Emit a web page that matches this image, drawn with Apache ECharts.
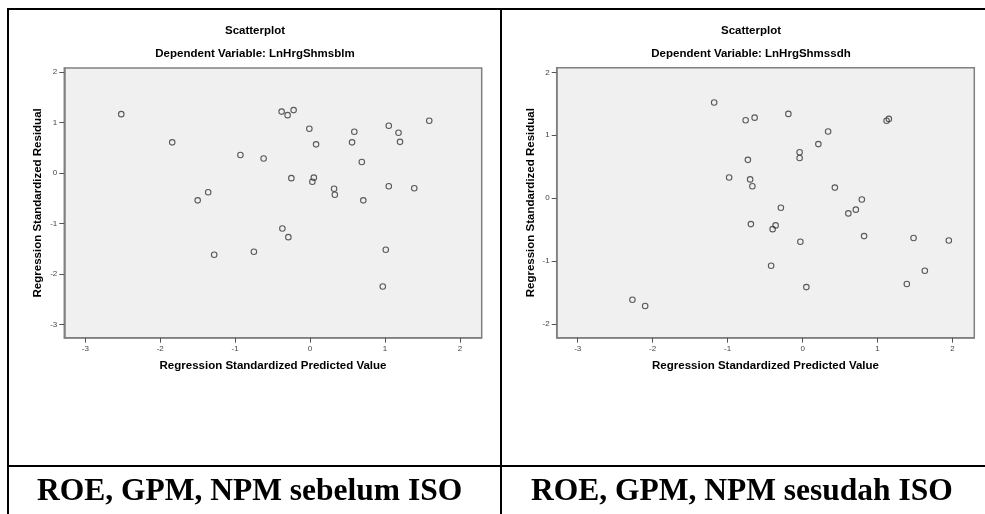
<!DOCTYPE html>
<html>
<head>
<meta charset="utf-8">
<script src="https://cdn.jsdelivr.net/npm/echarts@6/dist/echarts.min.js"></script>
<style>
  html, body { margin: 0; padding: 0; background: #fff; }
  #chart { width: 985px; height: 514px; }
</style>
</head>
<body>
<div id="chart"></div>
<script>
// sebelum ISO
const leftX = [-2.52, -1.84, -0.93, -0.62, -0.38, -0.30, -0.22, -0.01, 0.08, -0.25, 0.05, 0.03,
  0.56, 0.59, 0.69, 0.32, 0.33, 0.71, 1.05, 1.18, 1.20, 1.59, 1.05, 1.39, -1.50, -1.36,
  -0.37, -0.29, -1.28, -0.75, 1.01, 0.97];
const leftY = [1.17, 0.61, 0.36, 0.29, 1.22, 1.15, 1.25, 0.88, 0.57, -0.10, -0.09, -0.17,
  0.61, 0.82, 0.22, -0.31, -0.43, -0.54, 0.94, 0.80, 0.62, 1.04, -0.26, -0.30, -0.54, -0.38,
  -1.10, -1.27, -1.62, -1.56, -1.52, -2.25];
// sesudah ISO
const rightX = [-1.18, -0.76, -0.64, -0.19, 0.34, 0.21, -0.04, -0.04, 1.12, 1.15, -0.73, -0.98,
  -0.70, -0.67, 0.43, 0.79, -0.29, 0.61, 0.71, -0.69, -0.36, -0.40, 0.82, -0.03, 1.48, 1.95,
  -0.42, 0.05, 1.63, 1.39, -2.27, -2.10];
const rightY = [1.52, 1.24, 1.28, 1.34, 1.06, 0.86, 0.73, 0.64, 1.23, 1.26, 0.61, 0.33,
  0.30, 0.19, 0.17, -0.02, -0.15, -0.24, -0.18, -0.41, -0.43, -0.49, -0.60, -0.69, -0.63, -0.67,
  -1.07, -1.41, -1.15, -1.36, -1.61, -1.71];

const xTicks = [-3, -2, -1, 0, 1, 2];
const leftYTicks = [-3, -2, -1, 0, 1, 2];
const rightYTicks = [-2, -1, 0, 1, 2];
const subTitles = ["Dependent Variable: LnHrgShmsblm", "Dependent Variable: LnHrgShmssdh"];
const captions = ["ROE, GPM, NPM sebelum ISO", "ROE, GPM, NPM sesudah ISO"];

const sans = "Liberation Sans, Arial, sans-serif";

function pairs(xs, ys) {
  return xs.map((x, i) => [x, ys[i]]);
}

function xAxisOf(idx) {
  return {
    type: "value",
    gridIndex: idx,
    min: -3.28,
    max: 2.29,
    name: "Regression Standardized Predicted Value",
    nameLocation: "middle",
    nameGap: 22,
    nameTextStyle: { fontFamily: sans, fontWeight: "bold", fontSize: 11.5, color: "#000" },
    splitLine: { show: false },
    axisLine: { show: true, onZero: false, lineStyle: { color: "#808080", width: 1.5 } },
    axisTick: { show: true, length: 5, customValues: xTicks, lineStyle: { color: "#555" } },
    axisLabel: { customValues: xTicks, margin: 7, fontSize: 8, color: "#444", fontFamily: sans }
  };
}

function yAxisOf(idx, min, max, ticks) {
  return {
    type: "value",
    gridIndex: idx,
    min: min,
    max: max,
    name: "Regression Standardized Residual",
    nameLocation: "middle",
    nameGap: 20,
    nameTextStyle: { fontFamily: sans, fontWeight: "bold", fontSize: 11.5, color: "#000" },
    splitLine: { show: false },
    axisLine: { show: true, onZero: false, lineStyle: { color: "#808080", width: 1.5 } },
    axisTick: { show: true, length: 5, customValues: ticks, lineStyle: { color: "#555" } },
    axisLabel: { customValues: ticks, margin: 7, fontSize: 8, color: "#444", fontFamily: sans }
  };
}

function scatterOf(idx, data) {
  return {
    type: "scatter",
    xAxisIndex: idx,
    yAxisIndex: idx,
    data: data,
    symbol: "circle",
    symbolSize: 5.5,
    itemStyle: { color: "rgba(0,0,0,0)", borderColor: "#333", borderWidth: 1.1 },
    silent: true
  };
}

function line(x1, y1, x2, y2) {
  return {
    type: "line",
    shape: { x1: x1, y1: y1, x2: x2, y2: y2 },
    style: { stroke: "#000", lineWidth: 2 },
    silent: true
  };
}

function caption(cx, text) {
  return {
    type: "text", left: cx - 215, top: 476,
    style: { text: text, font: "bold 31.5px 'Liberation Serif', 'Times New Roman', serif",
      fill: "#000", width: 430, align: "center" },
    silent: true
  };
}

const titleStyle = { fontFamily: sans, fontWeight: "bold", fontSize: 11.5, color: "#000" };

const option = {
  backgroundColor: "#fff",
  animation: false,
  title: [
    { text: "Scatterplot", left: 250, top: 20, textAlign: "center", textStyle: titleStyle },
    { text: subTitles[0], left: 250, top: 43, textAlign: "center", textStyle: titleStyle },
    { text: "Scatterplot", left: 746, top: 20, textAlign: "center", textStyle: titleStyle },
    { text: subTitles[1], left: 746, top: 43, textAlign: "center", textStyle: titleStyle }
  ],
  grid: [
    { left: 64.3, top: 68, width: 417.4, height: 269.7, show: true,
      backgroundColor: "#F0F0F0", borderColor: "#808080", borderWidth: 1.5 },
    { left: 556.7, top: 67.7, width: 417.6, height: 270, show: true,
      backgroundColor: "#F0F0F0", borderColor: "#808080", borderWidth: 1.5 }
  ],
  xAxis: [xAxisOf(0), xAxisOf(1)],
  yAxis: [
    yAxisOf(0, -3.265, 2.085, leftYTicks),
    yAxisOf(1, -2.213, 2.073, rightYTicks)
  ],
  series: [
    scatterOf(0, pairs(leftX, leftY)),
    scatterOf(1, pairs(rightX, rightY))
  ],
  graphic: [
    line(7, 9, 985, 9),
    line(8, 9, 8, 514),
    line(501, 9, 501, 514),
    line(7, 466, 985, 466),
    caption(252, captions[0]),
    caption(746, captions[1])
  ]
};

const chart = echarts.init(document.getElementById("chart"), null, { renderer: "canvas" });
chart.setOption(option);
</script>
</body>
</html>
